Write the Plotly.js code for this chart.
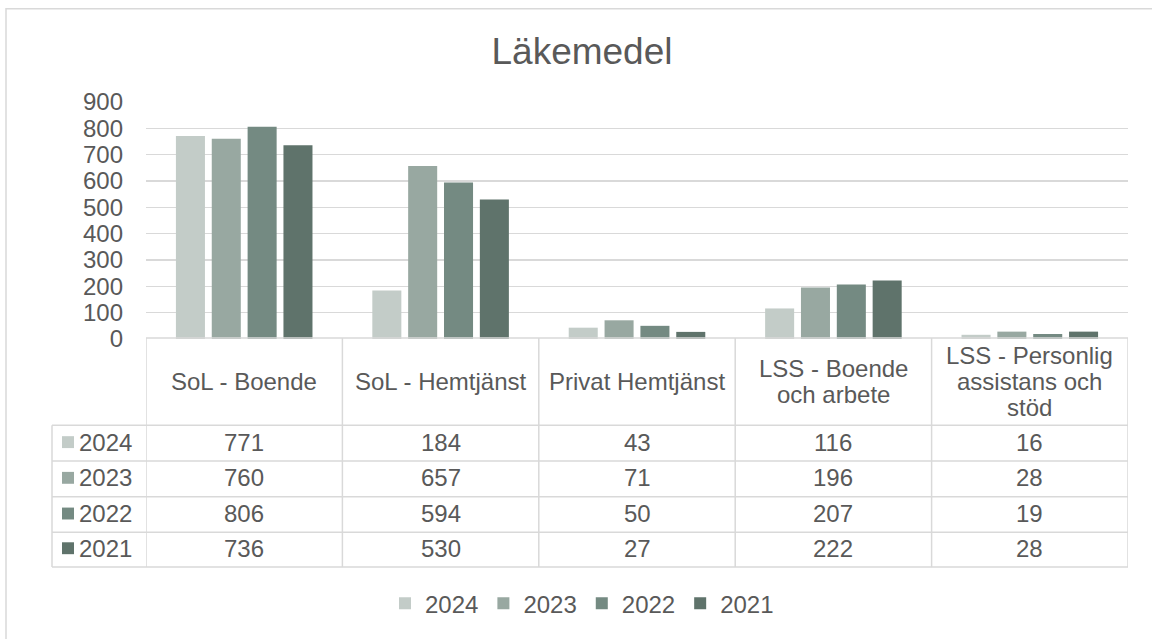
<!DOCTYPE html>
<html>
<head>
<meta charset="utf-8">
<script src="https://cdn.plot.ly/plotly-3.0.1.min.js"></script>
<style>html,body{margin:0;padding:0;background:#fff;}#chart{width:1152px;height:639px;}</style>
</head>
<body>
<div id="chart"></div>
<script>
// ---- data ----
const categories = ['SoL - Boende', 'SoL - Hemtjänst', 'Privat Hemtjänst', 'LSS - Boende<br>och arbete', 'LSS - Personlig<br>assistans och<br>stöd'];
const years = ['2024', '2023', '2022', '2021'];
const v2024 = [771, 184, 43, 116, 16];
const v2023 = [760, 657, 71, 196, 28];
const v2022 = [806, 594, 50, 207, 19];
const v2021 = [736, 530, 27, 222, 28];
const seriesValues = [v2024, v2023, v2022, v2021];
const colors = ['#C3CCC8', '#98A8A1', '#748A82', '#5F736B'];
const yTicks = [0, 100, 200, 300, 400, 500, 600, 700, 800, 900];

// ---- layout geometry (pixels) ----
const W = 1152, H = 639;
const L = 146, R = 1128, T = 102, B = 341;
const px = x => (x - L) / (R - L);
const py = y => (B - y) / (B - T);
const textColor = '#595959';
const lineColor = '#D9D9D9';
const font = 'Liberation Sans, Arial, sans-serif';
const fs = 24;

const xIdx = categories.map((c, i) => i);

const traces = years.map((yr, k) => ({
  type: 'bar',
  name: yr,
  x: xIdx,
  y: seriesValues[k],
  marker: {color: colors[k]},
  hoverinfo: 'skip'
}));

// table geometry
const headerTop = 340, headerBot = 428;
const rowLines = [428, 464, 500, 536, 571];
const rowCenters = [445, 481, 517, 552];
const tableLeft = 52;

const shapes = [];
const ln = (x0, y0, x1, y1) => shapes.push({
  type: 'line', xref: 'paper', yref: 'paper',
  x0: px(x0), x1: px(x1), y0: py(y0), y1: py(y1),
  line: {color: lineColor, width: 1.5}
});
// outer chart border
shapes.push({type: 'rect', xref: 'paper', yref: 'paper', x0: px(6), x1: px(1170), y0: py(8), y1: py(660),
  line: {color: lineColor, width: 1.5}, fillcolor: 'rgba(0,0,0,0)'});
// table top border
ln(L, headerTop, R, headerTop);
// horizontal row lines
rowLines.forEach(y => ln(tableLeft, y, R, y));
// left edge of row label column
ln(tableLeft, headerBot, tableLeft, rowLines[rowLines.length - 1]);
// vertical column lines at category boundaries
for (let i = 0; i <= categories.length; i++) {
  shapes.push({type: 'line', xref: 'x', yref: 'paper', x0: i - 0.5, x1: i - 0.5,
    y0: py(headerTop), y1: py(rowLines[rowLines.length - 1]), line: {color: lineColor, width: 1.5}});
}
// row label color squares
years.forEach((yr, k) => {
  shapes.push({type: 'rect', xref: 'paper', yref: 'paper', x0: px(62), x1: px(74),
    y0: py(rowCenters[k] + 6), y1: py(rowCenters[k] - 6), line: {width: 0}, fillcolor: colors[k]});
});

const annotations = [];
// header labels (category names), each line placed separately
const headerCenter = 384, headerLineGap = 26;
categories.forEach((c, i) => {
  const lines = c.split('<br>');
  lines.forEach((t, j) => {
    const yc = headerCenter + (j - (lines.length - 1) / 2) * headerLineGap;
    annotations.push({xref: 'x', yref: 'paper', x: i, y: py(yc), text: t, showarrow: false,
      xanchor: 'center', yanchor: 'middle', font: {family: font, size: fs, color: textColor}});
  });
});
// row labels and values
years.forEach((yr, k) => {
  annotations.push({xref: 'paper', yref: 'paper', x: px(77), y: py(rowCenters[k]), text: yr, showarrow: false,
    xanchor: 'left', yanchor: 'middle', font: {family: font, size: fs, color: textColor}});
  seriesValues[k].forEach((v, i) => {
    annotations.push({xref: 'x', yref: 'paper', x: i, y: py(rowCenters[k]), text: String(v), showarrow: false,
      xanchor: 'center', yanchor: 'middle', font: {family: font, size: fs, color: textColor}});
  });
});

const layout = {
  width: W, height: H,
  paper_bgcolor: '#ffffff', plot_bgcolor: '#ffffff',
  margin: {l: L, r: W - R, t: T, b: H - B, pad: 0},
  font: {family: font, size: fs, color: textColor},
  title: {text: 'Läkemedel', x: 582 / W, xanchor: 'center', xref: 'container',
    y: 1 - 51 / H, yanchor: 'middle', yref: 'container',
    font: {family: font, size: 37, color: textColor}},
  barmode: 'group', bargap: 0.27, bargroupgap: 0.19,
  xaxis: {type: 'linear', range: [-0.5, categories.length - 0.5], showticklabels: false, showgrid: false,
    zeroline: false, showline: false, ticks: '', fixedrange: true},
  yaxis: {range: [0, 900], tickvals: yTicks, ticktext: yTicks.map(String), showgrid: true,
    gridcolor: lineColor, gridwidth: 1.5, zeroline: false, showline: false, ticks: '',
    ticklabelstandoff: 22, tickfont: {family: font, size: fs, color: textColor}, fixedrange: true},
  showlegend: true,
  legend: {orientation: 'h', x: px(582), xanchor: 'center', y: py(608), yanchor: 'middle',
    bgcolor: 'rgba(0,0,0,0)', font: {family: font, size: fs, color: textColor}, traceorder: 'normal'},
  shapes: shapes,
  annotations: annotations,
  hovermode: false
};

Plotly.newPlot('chart', traces, layout, {displayModeBar: false, staticPlot: true});
</script>
</body>
</html>
